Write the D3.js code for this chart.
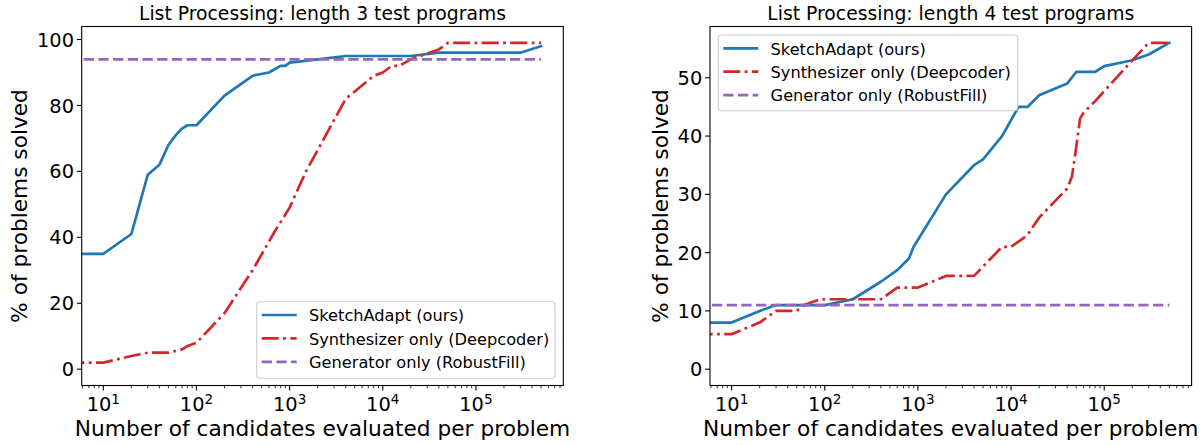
<!DOCTYPE html>
<html><head><meta charset="utf-8">
<script src="https://cdn.jsdelivr.net/npm/d3@7"></script>
<style>
body{margin:0;background:#fff}
svg{display:block}
text{font-family:"DejaVu Sans",sans-serif;fill:#000}
</style>
</head><body>
<svg id="chart" width="1202" height="445"></svg>
<script>
// ---------- data ----------
const titles = ["List Processing: length 3 test programs", "List Processing: length 4 test programs"];
const seriesNames = ["SketchAdapt (ours)", "Synthesizer only (Deepcoder)", "Generator only (RobustFill)"];
const xLabel = "Number of candidates evaluated per problem";
const yLabel = "% of problems solved";
const xTickExps = [1, 2, 3, 4, 5];
const yTicksLen3 = [0, 20, 40, 60, 80, 100];
const yTicksLen4 = [0, 10, 20, 30, 40, 50];

// length 3 : [candidates, % solved]
const sketchLen3 = [[1,35],[10,35],[20,41],[30,59],[40,62],[50,68],[60,71],[70,73],[80,74],[100,74],
  [200,83],[400,89],[600,90],[800,92],[900,92],[1000,93],[2000,94],[4000,95],[20000,95],[40000,96],
  [300000,96],[500000,98]];
const synthLen3 = [[1,2],[10,2],[20,4],[30,5],[50,5],[70,6],[80,7],[100,8],[200,17],[400,30],[700,42],
  [1000,49],[1500,60],[4000,82],[8000,89],[10000,90],[12500,92],[15000,92],[20000,94],[40000,97],
  [50000,99],[500000,99]];
const genLen3 = [[1,94],[500000,94]];

// length 4
const sketchLen4 = [[1,8],[10,8],[20,10],[30,11],[100,11],[200,12],[400,15],[600,17],[800,19],[900,21],
  [2000,30],[4000,35],[5000,36],[8000,40],[12000,45],[15000,45],[20000,47],[40000,49],[50000,51],
  [80000,51],[100000,52],[200000,53],[300000,54],[500000,56]];
const synthLen4 = [[1,6],[10,6],[20,8],[30,10],[50,10],[60,11],[90,12],[400,12],[600,14],[1000,14],
  [2000,16],[4000,16],[8000,21],[10000,21],[15000,23],[20000,26],[40000,31],[45000,33],[50000,38],
  [55000,43],[60000,44],[80000,46],[200000,53],[300000,56],[500000,56]];
const genLen4 = [[1,11],[500000,11]];

// ---------- styling ----------
const colors = ["#1f77b4", "#d62728", "#9467bd"];
const dashes = [null, "17,4.4,2.8,4.4", "10.3,4.4"];
const LW = 2.7;
const FS_TICK = 19.4, FS_TITLE = 18.8, FS_LABEL = 21.7, FS_LEG = 16.2;

const panels = [
  {title: titles[0], yTicks: yTicksLen3, yDomain: [-4.95, 103.95], series: [sketchLen3, synthLen3, genLen3],
   left: 81.7, right: 563.3, ylabX: 27, legend: {x: 256.7, y: 301.7, w: 298.3, h: 76.6}},
  {title: titles[1], yTicks: yTicksLen4, yDomain: [-2.8, 58.8], series: [sketchLen4, synthLen4, genLen4],
   left: 710, right: 1191.6, ylabX: 668, legend: {x: 718.3, y: 35, w: 299.4, h: 75.7}}
];
const TOP = 26.5, BOTTOM = 385.5;
const xDomain = [Math.pow(10, 0.768), Math.pow(10, 5.938)];

const svg = d3.select("#chart");

panels.forEach((p, pi) => {
  const x = d3.scaleLog().domain(xDomain).range([p.left, p.right]);
  const y = d3.scaleLinear().domain(p.yDomain).range([BOTTOM, TOP]);
  const g = svg.append("g");

  const clipId = "clip" + pi;
  svg.append("defs").append("clipPath").attr("id", clipId)
    .append("rect").attr("x", p.left).attr("y", TOP).attr("width", p.right - p.left).attr("height", BOTTOM - TOP);

  // lines
  const line = d3.line().x(d => x(d[0])).y(d => y(d[1]));
  const lg = g.append("g").attr("clip-path", `url(#${clipId})`);
  // draw order: sketch, synth, gen
  p.series.forEach((s, si) => {
    lg.append("path").datum(s).attr("d", line)
      .attr("fill", "none").attr("stroke", colors[si]).attr("stroke-width", LW)
      .attr("stroke-dasharray", dashes[si]).attr("stroke-linejoin", "round")
      .attr("stroke-linecap", si === 0 ? "square" : "butt");
  });

  // x axis ticks (major)
  const ax = g.append("g");
  xTickExps.forEach(e => {
    const v = Math.pow(10, e);
    const px = x(v);
    ax.append("line").attr("x1", px).attr("x2", px).attr("y1", BOTTOM).attr("y2", BOTTOM + 4.9)
      .attr("stroke", "#000").attr("stroke-width", 1.1);
    const t = ax.append("text").attr("x", px).attr("y", BOTTOM + 25.2)
      .attr("text-anchor", "middle").attr("font-size", FS_TICK);
    t.append("tspan").text("10");
    t.append("tspan").attr("font-size", FS_TICK * 0.7).attr("dy", -6.8).text(String(e));
  });
  // minor ticks
  for (let d = 0; d <= 5; d++) {
    for (let k = 2; k <= 9; k++) {
      const v = k * Math.pow(10, d);
      if (v < xDomain[0] || v > xDomain[1]) continue;
      const px = x(v);
      ax.append("line").attr("x1", px).attr("x2", px).attr("y1", BOTTOM).attr("y2", BOTTOM + 2.8)
        .attr("stroke", "#000").attr("stroke-width", 0.8);
    }
  }
  // y ticks
  p.yTicks.forEach(v => {
    const py = y(v);
    ax.append("line").attr("x1", p.left - 4.9).attr("x2", p.left).attr("y1", py).attr("y2", py)
      .attr("stroke", "#000").attr("stroke-width", 1.1);
    ax.append("text").attr("x", p.left - 7.7).attr("y", py + 7.1)
      .attr("text-anchor", "end").attr("font-size", FS_TICK).text(String(v));
  });

  // spines
  g.append("rect").attr("x", p.left).attr("y", TOP).attr("width", p.right - p.left).attr("height", BOTTOM - TOP)
    .attr("fill", "none").attr("stroke", "#000").attr("stroke-width", 1.1);

  // title
  g.append("text").attr("x", (p.left + p.right) / 2).attr("y", 20)
    .attr("text-anchor", "middle").attr("font-size", FS_TITLE).text(p.title);
  // x label
  g.append("text").attr("x", (p.left + p.right) / 2).attr("y", 436)
    .attr("text-anchor", "middle").attr("font-size", FS_LABEL).text(xLabel);
  // y label
  g.append("text").attr("transform", `translate(${p.ylabX},${(TOP + BOTTOM) / 2}) rotate(-90)`)
    .attr("text-anchor", "middle").attr("font-size", FS_LABEL).text(yLabel);

  // legend
  const L = p.legend;
  const leg = g.append("g");
  leg.append("rect").attr("x", L.x).attr("y", L.y).attr("width", L.w).attr("height", L.h)
    .attr("rx", 3.5).attr("ry", 3.5)
    .attr("fill", "#fff").attr("fill-opacity", 0.8).attr("stroke", "#cccccc").attr("stroke-width", 1.1);
  seriesNames.forEach((name, i) => {
    const cy = L.y + 13.3 + 23.4 * i;
    leg.append("line").attr("x1", L.x + 5).attr("x2", L.x + 40).attr("y1", cy).attr("y2", cy)
      .attr("stroke", colors[i]).attr("stroke-width", LW).attr("stroke-dasharray", dashes[i]);
    leg.append("text").attr("x", L.x + 52.3).attr("y", cy + 6.2)
      .attr("font-size", FS_LEG).text(name);
  });
});
</script>
</body></html>
